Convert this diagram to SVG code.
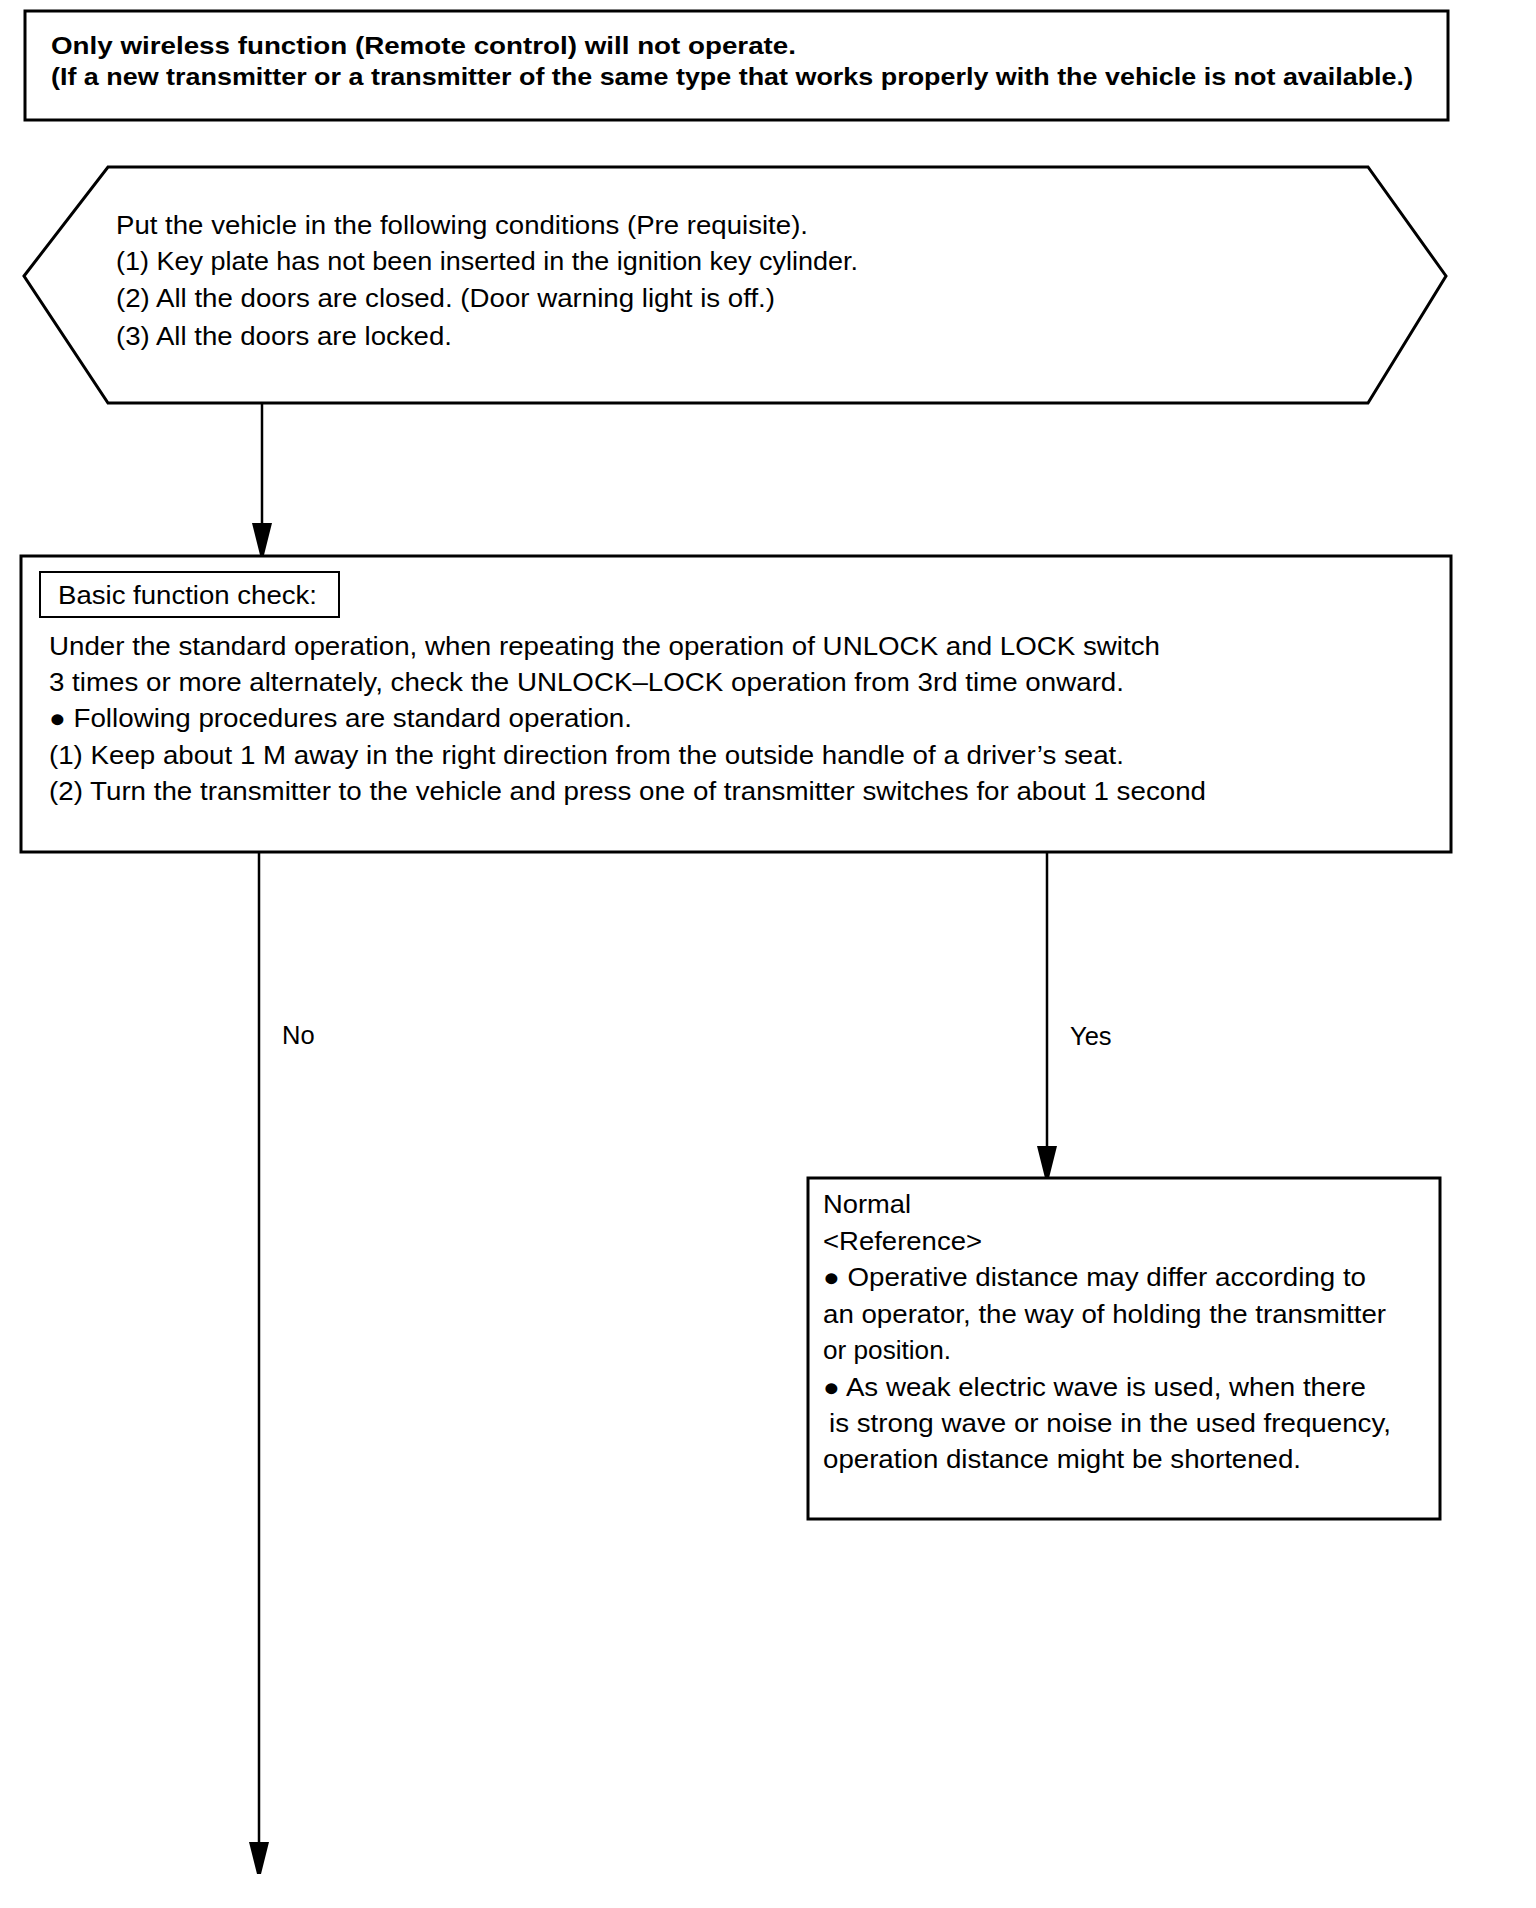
<svg xmlns="http://www.w3.org/2000/svg" width="1536" height="1908" viewBox="0 0 1536 1908">
<defs>
<style>
.box{fill:#fff;stroke:#000;stroke-width:3}
.thin{fill:#fff;stroke:#000;stroke-width:2}
.t{font-family:"Liberation Sans",Arial,sans-serif;font-size:25.5px;fill:#000}
.b{font-family:"Liberation Sans",Arial,sans-serif;font-size:24.5px;font-weight:bold;fill:#000}
.con{stroke:#000;stroke-width:2.5;fill:none}
</style>
<marker id="ah" markerUnits="userSpaceOnUse" markerWidth="34" markerHeight="24" viewBox="0 -12 34 24" refX="32" refY="0" orient="auto">
<path d="M0,-10 L32,-2 L32,2 L0,10 z" fill="#000"/>
</marker>
</defs>
<rect width="1536" height="1908" fill="#fff"/>
<g id="connectors">
<line class="con" x1="262" y1="403" x2="262" y2="555" marker-end="url(#ah)"/>
<line class="con" x1="259" y1="852" x2="259" y2="1874" marker-end="url(#ah)"/>
<line class="con" x1="1047" y1="852" x2="1047" y2="1178" marker-end="url(#ah)"/>
<text class="t" x="282" y="1044">No</text>
<text class="t" x="1070" y="1045">Yes</text>
</g>
<g id="title">
<rect class="box" x="25" y="11" width="1423" height="109"/>
<text class="b" x="51" y="54" textLength="745" lengthAdjust="spacingAndGlyphs">Only wireless function (Remote control) will not operate.</text>
<text class="b" x="51" y="85" textLength="1362" lengthAdjust="spacingAndGlyphs">(If a new transmitter or a transmitter of the same type that works properly with the vehicle is not available.)</text>
</g>
<g id="prerequisite">
<polygon class="box" points="24,276 108,167 1368,167 1446,276 1368,403 108,403"/>
<text class="t" x="116" y="234" textLength="692" lengthAdjust="spacingAndGlyphs">Put the vehicle in the following conditions (Pre requisite).</text>
<text class="t" x="116" y="270" textLength="742" lengthAdjust="spacingAndGlyphs">(1) Key plate has not been inserted in the ignition key cylinder.</text>
<text class="t" x="116" y="307" textLength="659" lengthAdjust="spacingAndGlyphs">(2) All the doors are closed. (Door warning light is off.)</text>
<text class="t" x="116" y="345" textLength="336" lengthAdjust="spacingAndGlyphs">(3) All the doors are locked.</text>
</g>
<g id="basic-check">
<rect class="box" x="21" y="556" width="1430" height="296"/>
<rect class="thin" x="40" y="572" width="299" height="45"/>
<text class="t" x="58" y="604" textLength="259" lengthAdjust="spacingAndGlyphs">Basic function check:</text>
<text class="t" x="49" y="655" textLength="1111" lengthAdjust="spacingAndGlyphs">Under the standard operation, when repeating the operation of UNLOCK and LOCK switch</text>
<text class="t" x="49" y="691" textLength="1075" lengthAdjust="spacingAndGlyphs">3 times or more alternately, check the UNLOCK–LOCK operation from 3rd time onward.</text>
<text class="t" x="49" y="727" textLength="583" lengthAdjust="spacingAndGlyphs">● Following procedures are standard operation.</text>
<text class="t" x="49" y="764" textLength="1075" lengthAdjust="spacingAndGlyphs">(1) Keep about 1 M away in the right direction from the outside handle of a driver’s seat.</text>
<text class="t" x="49" y="800" textLength="1157" lengthAdjust="spacingAndGlyphs">(2) Turn the transmitter to the vehicle and press one of transmitter switches for about 1 second</text>
</g>
<g id="normal">
<rect class="box" x="808" y="1178" width="632" height="341"/>
<text class="t" x="823" y="1213" textLength="88" lengthAdjust="spacingAndGlyphs">Normal</text>
<text class="t" x="823" y="1250" textLength="159" lengthAdjust="spacingAndGlyphs">&lt;Reference&gt;</text>
<text class="t" x="823" y="1286" textLength="543" lengthAdjust="spacingAndGlyphs">● Operative distance may differ according to</text>
<text class="t" x="823" y="1323" textLength="563" lengthAdjust="spacingAndGlyphs">an operator, the way of holding the transmitter</text>
<text class="t" x="823" y="1359" textLength="128" lengthAdjust="spacingAndGlyphs">or position.</text>
<text class="t" x="823" y="1396" textLength="543" lengthAdjust="spacingAndGlyphs">● As weak electric wave is used, when there</text>
<text class="t" x="829" y="1432" textLength="562" lengthAdjust="spacingAndGlyphs">is strong wave or noise in the used frequency,</text>
<text class="t" x="823" y="1468" textLength="478" lengthAdjust="spacingAndGlyphs">operation distance might be shortened.</text>
</g>
</svg>
